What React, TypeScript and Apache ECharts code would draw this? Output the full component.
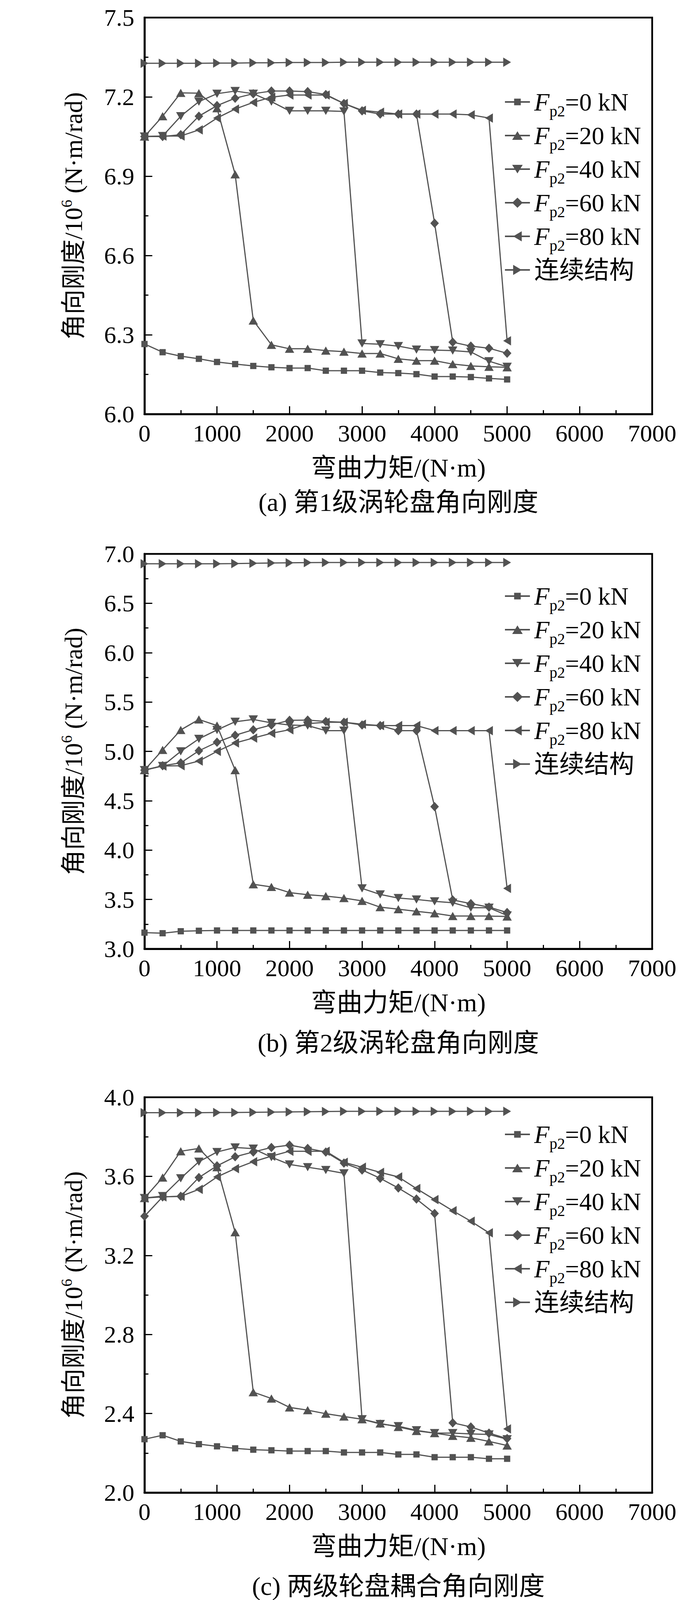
import React, { useEffect, useRef } from 'react';
import * as echarts from 'echarts';

// bending moment, N·m
const moments = [0, 250, 500, 750, 1000, 1250, 1500, 1750, 2000, 2250, 2500, 2750, 3000, 3250, 3500, 3750, 4000, 4250, 4500, 4750, 5000];

const seriesNames = ['Fp2=0 kN', 'Fp2=20 kN', 'Fp2=40 kN', 'Fp2=60 kN', 'Fp2=80 kN', '连续结构'];

// (a) stage 1 disc
const f0A = [6.265, 6.234, 6.219, 6.209, 6.197, 6.189, 6.182, 6.177, 6.174, 6.174, 6.164, 6.164, 6.164, 6.157, 6.155, 6.151, 6.142, 6.142, 6.140, 6.135, 6.131];
const f20A = [7.05, 7.127, 7.215, 7.214, 7.157, 6.907, 6.354, 6.262, 6.247, 6.247, 6.240, 6.236, 6.229, 6.229, 6.209, 6.202, 6.202, 6.189, 6.182, 6.179, 6.177];
const f40A = [7.05, 7.052, 7.127, 7.182, 7.212, 7.222, 7.212, 7.182, 7.147, 7.147, 7.147, 7.145, 6.267, 6.264, 6.257, 6.244, 6.242, 6.240, 6.235, 6.200, 6.179];
const f60A = [7.05, 7.05, 7.057, 7.127, 7.167, 7.195, 7.212, 7.222, 7.222, 7.220, 7.209, 7.175, 7.147, 7.135, 7.135, 7.135, 6.722, 6.272, 6.257, 6.249, 6.230];
const f80A = [7.05, 7.052, 7.052, 7.075, 7.120, 7.154, 7.179, 7.199, 7.207, 7.207, 7.207, 7.175, 7.149, 7.142, 7.135, 7.135, 7.135, 7.135, 7.132, 7.120, 6.277];
const contA = [7.327, 7.327, 7.327, 7.327, 7.328, 7.328, 7.329, 7.329, 7.330, 7.330, 7.330, 7.331, 7.331, 7.331, 7.331, 7.331, 7.331, 7.331, 7.331, 7.331, 7.331];

// (b) stage 2 disc
const f0B = [3.164, 3.158, 3.178, 3.183, 3.186, 3.186, 3.186, 3.186, 3.186, 3.186, 3.186, 3.186, 3.186, 3.186, 3.186, 3.186, 3.186, 3.186, 3.186, 3.186, 3.186];
const f20B = [4.81, 5.015, 5.217, 5.323, 5.261, 4.81, 3.654, 3.627, 3.57, 3.548, 3.534, 3.514, 3.486, 3.422, 3.402, 3.38, 3.36, 3.332, 3.332, 3.332, 3.327];
const f40B = [4.81, 4.852, 5.0, 5.127, 5.217, 5.30, 5.323, 5.289, 5.267, 5.261, 5.21, 5.21, 3.612, 3.551, 3.514, 3.5, 3.481, 3.467, 3.416, 3.416, 3.338];
const f60B = [4.81, 4.855, 4.883, 5.006, 5.093, 5.163, 5.219, 5.267, 5.315, 5.317, 5.303, 5.295, 5.267, 5.261, 5.21, 5.21, 4.44, 3.495, 3.458, 3.422, 3.368];
const f80B = [4.81, 4.852, 4.855, 4.902, 5.0, 5.085, 5.135, 5.183, 5.219, 5.281, 5.295, 5.295, 5.275, 5.261, 5.261, 5.261, 5.21, 5.21, 5.21, 5.21, 3.612];
const contB = [6.90, 6.90, 6.90, 6.90, 6.90, 6.902, 6.905, 6.908, 6.91, 6.912, 6.913, 6.913, 6.913, 6.913, 6.913, 6.913, 6.913, 6.913, 6.913, 6.913, 6.913];

// (c) coupled discs
const f0C = [2.270, 2.290, 2.259, 2.245, 2.234, 2.224, 2.217, 2.214, 2.210, 2.210, 2.210, 2.203, 2.203, 2.203, 2.193, 2.193, 2.179, 2.179, 2.179, 2.171, 2.171];
const f20C = [3.49, 3.594, 3.727, 3.741, 3.646, 3.317, 2.508, 2.476, 2.431, 2.417, 2.399, 2.385, 2.371, 2.35, 2.332, 2.312, 2.301, 2.287, 2.277, 2.259, 2.238];
const f40C = [3.49, 3.50, 3.59, 3.674, 3.723, 3.746, 3.74, 3.697, 3.66, 3.646, 3.632, 3.615, 2.371, 2.347, 2.336, 2.315, 2.301, 2.301, 2.297, 2.294, 2.27];
const f60C = [3.398, 3.496, 3.499, 3.594, 3.653, 3.699, 3.723, 3.746, 3.758, 3.741, 3.723, 3.667, 3.632, 3.59, 3.541, 3.485, 3.412, 2.353, 2.332, 2.301, 2.273];
const f80C = [3.49, 3.496, 3.499, 3.534, 3.597, 3.639, 3.674, 3.702, 3.727, 3.727, 3.727, 3.671, 3.646, 3.62, 3.597, 3.538, 3.482, 3.426, 3.373, 3.314, 2.322];
const contC = [3.922, 3.922, 3.922, 3.922, 3.923, 3.923, 3.924, 3.925, 3.926, 3.927, 3.928, 3.929, 3.929, 3.929, 3.929, 3.929, 3.929, 3.929, 3.929, 3.929, 3.929];

// panel layout, in pixels of a 1772x4239 page
const panels = [
  { top: 47, height: 1050, min: 6.0, max: 7.5, interval: 0.3, legendTop: 226, caption: '(a) 第1级涡轮盘角向刚度', captionY: 1330, values: [f0A, f20A, f40A, f60A, f80A, contA] },
  { top: 1467, height: 1046, min: 3.0, max: 7.0, interval: 0.5, legendTop: 1535, caption: '(b) 第2级涡轮盘角向刚度', captionY: 2762, values: [f0B, f20B, f40B, f60B, f80B, contB] },
  { top: 2907, height: 1047, min: 2.0, max: 4.0, interval: 0.4, legendTop: 2961, caption: '(c) 两级轮盘耦合角向刚度', captionY: 4202, values: [f0C, f20C, f40C, f60C, f80C, contC] },
];

const PAGE_W = 1772;
const PAGE_H = 4239;
const GRID_LEFT = 370;
const GRID_WIDTH = 1300;
const COLOR = '#525252';
const FONT = "'Liberation Serif', 'Noto Sans CJK SC', serif";

const markerSymbols = [
  'rect',
  'triangle',
  'path://M0,0L10,0L5,9Z',
  'diamond',
  'path://M9,0L9,10L0,5Z',
  'path://M0,0L9,5L0,10Z',
];
const markerSizes: (number | number[])[] = [16, [24, 21], [24, 21], [22, 24], [20, 24], [20, 24]];

// legend icons: line + marker, drawn in a 64x26 box
const iconLine = 'M0,0L0.1,0L0,0.1Z M64,26L63.9,26L64,25.9Z M0,11L64,11L64,15L0,15Z ';
const iconShapes = [
  'M23.5,4.5L40.5,4.5L40.5,21.5L23.5,21.5Z',
  'M32,2L45.5,24L18.5,24Z',
  'M18.5,2L45.5,2L32,24Z',
  'M32,0L45.5,13L32,26L18.5,13Z',
  'M43,0L43,26L21,13Z',
  'M21,0L43,13L21,26Z',
];

const legendLabel = (name: string) => {
  if (name.indexOf('Fp2') === 0) {
    return '{i|F}{s|p2}{n|' + name.slice(3) + '}';
  }
  return '{n|' + name + '}';
};

const App: React.FC = () => {
  const chartRef = useRef<HTMLDivElement>(null);

  useEffect(() => {
    if (!chartRef.current) return;
    const chart = echarts.init(chartRef.current, null, { renderer: 'svg' });
    // fit the page layout into the visible area
    const sy = Math.min(1, chartRef.current.clientHeight / PAGE_H);
    const Y = (v: number) => Math.round(v * sy);

    const grid: any[] = [];
    const xAxis: any[] = [];
    const yAxis: any[] = [];
    const legend: any[] = [];
    const series: any[] = [];
    const graphic: any[] = [];

    panels.forEach((p, k) => {
      grid.push({
        left: GRID_LEFT,
        top: Y(p.top),
        width: GRID_WIDTH,
        height: Y(p.height),
        show: true,
        borderColor: '#000',
        borderWidth: 4.5,
        backgroundColor: 'transparent',
      });
      xAxis.push({
        type: 'value',
        gridIndex: k,
        min: 0,
        max: 7000,
        interval: 1000,
        name: '弯曲力矩/(N·m)',
        nameLocation: 'middle',
        nameGap: Y(108),
        nameTextStyle: { fontSize: 66, fontFamily: FONT, color: '#000' },
        axisLine: { lineStyle: { color: '#000', width: 5 } },
        axisTick: { inside: true, length: 20, lineStyle: { color: '#000', width: 3 } },
        minorTick: { show: true, splitNumber: 2, length: 10, lineStyle: { color: '#000', width: 3 } },
        axisLabel: {
          fontSize: 62,
          fontFamily: FONT,
          color: '#000',
          margin: 18,
          formatter: (v: number) => String(v),
        },
        splitLine: { show: false },
      });
      yAxis.push({
        type: 'value',
        gridIndex: k,
        min: p.min,
        max: p.max,
        interval: p.interval,
        name: '{a|角向刚度/10}{p|6}{a| (N·m/rad)}',
        nameLocation: 'middle',
        nameGap: 144,
        nameTextStyle: {
          color: '#000',
          rich: {
            a: { fontSize: 64, fontFamily: FONT, color: '#000' },
            p: { fontSize: 40, fontFamily: FONT, color: '#000', padding: [0, 0, 36, 0] },
          },
        },
        axisLine: { lineStyle: { color: '#000', width: 5 } },
        axisTick: { inside: true, length: 20, lineStyle: { color: '#000', width: 3 } },
        minorTick: { show: true, splitNumber: 2, length: 10, lineStyle: { color: '#000', width: 3 } },
        axisLabel: {
          fontSize: 62,
          fontFamily: FONT,
          color: '#000',
          margin: 26,
          formatter: (v: number) => v.toFixed(1),
        },
        splitLine: { show: false },
      });
      legend.push({
        orient: 'vertical',
        left: 1293,
        top: Y(p.legendTop),
        padding: 0,
        itemGap: Math.max(0, 89 * sy - 86),
        itemWidth: 64,
        itemHeight: 26,
        itemStyle: { borderWidth: 0 },
        data: seriesNames.map((n, i) => ({ name: n, icon: 'path://' + iconLine + iconShapes[i] })),
        formatter: legendLabel,
        textStyle: {
          color: '#000',
          fontFamily: FONT,
          fontSize: 64,
          lineHeight: 86,
          padding: [0, 0, 0, 6],
          rich: {
            i: { fontSize: 64, lineHeight: 86, fontStyle: 'italic', fontFamily: FONT, color: '#000' },
            s: { fontSize: 40, lineHeight: 40, fontFamily: FONT, color: '#000', padding: [46, 0, 0, 0] },
            n: { fontSize: 64, lineHeight: 86, fontFamily: FONT, color: '#000' },
          },
        },
        selectedMode: false,
      });
      p.values.forEach((vals, i) => {
        series.push({
          type: 'line',
          name: seriesNames[i],
          xAxisIndex: k,
          yAxisIndex: k,
          data: moments.map((m, j) => [m, vals[j]]),
          symbol: markerSymbols[i],
          symbolSize: markerSizes[i],
          showAllSymbol: true,
          lineStyle: { color: COLOR, width: 3 },
          itemStyle: { color: COLOR, borderWidth: 0 },
          emphasis: { disabled: true },
        });
      });
      graphic.push({
        type: 'text',
        x: GRID_LEFT + GRID_WIDTH / 2,
        y: Y(p.captionY),
        style: {
          text: p.caption,
          fontSize: 66,
          fontFamily: FONT,
          fill: '#000',
          textAlign: 'center',
          textVerticalAlign: 'middle',
          verticalAlign: 'middle',
        },
      });
    });

    chart.setOption({
      animation: false,
      backgroundColor: '#fff',
      grid,
      xAxis,
      yAxis,
      legend,
      series,
      graphic,
    });

    return () => {
      chart.dispose();
    };
  }, []);

  return (
    <div
      ref={chartRef}
      style={{ position: 'absolute', left: 0, top: 0, width: PAGE_W + 'px', height: 'min(' + PAGE_H + 'px, 100vh)' }}
    ></div>
  );
};

export default App;
